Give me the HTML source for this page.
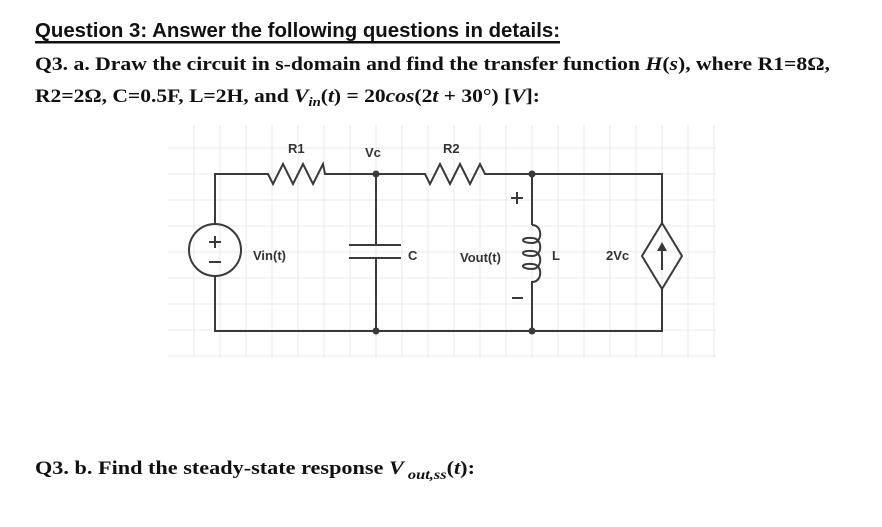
<!DOCTYPE html>
<html><head><style>body{margin:0;background:#fff}svg{display:block}</style></head><body>
<svg width="882" height="527" xmlns="http://www.w3.org/2000/svg">
<rect width="882" height="527" fill="#fff"/>
<text x="35" y="37" font-family="Liberation Sans,sans-serif" font-weight="bold" font-size="20" textLength="525" lengthAdjust="spacingAndGlyphs" fill="#111">Question 3: Answer the following questions in details:</text>
<rect x="35" y="41" width="525" height="2.5" fill="#111"/>
<text x="35" y="70" font-family="Liberation Serif,serif" font-weight="bold" font-size="19" textLength="795" lengthAdjust="spacingAndGlyphs" fill="#111">Q3. a. Draw the circuit in s-domain and find the transfer function <tspan font-style="italic">H</tspan>(<tspan font-style="italic">s</tspan>), where R1=8Ω,</text>
<text x="35" y="102" font-family="Liberation Serif,serif" font-weight="bold" font-size="19" textLength="505" lengthAdjust="spacingAndGlyphs" fill="#111">R2=2Ω, C=0.5F, L=2H, and <tspan font-style="italic">V</tspan><tspan font-style="italic" font-size="13" dy="4">in</tspan><tspan dy="-4">(</tspan><tspan font-style="italic">t</tspan>) = 20<tspan font-style="italic">cos</tspan>(2<tspan font-style="italic">t</tspan> + 30°) [<tspan font-style="italic">V</tspan>]:</text>
<text x="35" y="474" font-family="Liberation Serif,serif" font-weight="bold" font-size="19" textLength="440" lengthAdjust="spacingAndGlyphs" fill="#111">Q3. b. Find the steady-state response <tspan font-style="italic">V</tspan><tspan font-style="italic" font-size="14" dy="5"> out,ss</tspan><tspan dy="-5">(</tspan><tspan font-style="italic">t</tspan>):</text>
<g stroke="#e8e8e8" stroke-width="1">
<path d="M194 125V358M220 125V358M246 125V358M272 125V358M298 125V358M324 125V358M350 125V358M376 125V358M402 125V358M428 125V358M454 125V358M480 125V358M506 125V358M532 125V358M558 125V358M584 125V358M610 125V358M636 125V358M662 125V358M688 125V358M714 125V358"/>
<path d="M168 148H716M168 174H716M168 200H716M168 226H716M168 252H716M168 278H716M168 304H716M168 330H716M168 356H716"/>
</g>
<g stroke="#3a3a3a" stroke-width="2" fill="none">
<path d="M215 224V174H268l5 10 10-20 10 20 10-20 10 20 10-20 2 10H425l5 10 10-20 10 20 10-20 10 20 10-20 5 10H662V223"/>
<path d="M215 276V331H662V289"/>
<circle cx="215" cy="250" r="26"/>
<path d="M376 174V245M376 258V331M349 245H401M349 258H401"/>
<path d="M532 174V225M532 298V331"/>
<path d="M532 225c11 0 11 18 0 18c-12 0-12 -6 0 -5c11 0 11 18 0 18c-12 0-12 -6 0 -5c11 0 11 18 0 18c-12 0-12 -6 0 -5c11 0 11 18 0 18V298"/>
<path d="M662 223L682 256L662 289L642 256Z"/>
<path d="M662 270V248"/>
<path d="M209 242H221M215 236V248M209 262H221M511 198H523M517 192V204M512 298H523"/>
</g>
<path d="M657 251L662 242L667 251Z" fill="#3a3a3a"/>
<g fill="#3a3a3a"><circle cx="376" cy="174" r="3.5"/><circle cx="532" cy="174" r="3.5"/><circle cx="376" cy="331" r="3.5"/><circle cx="532" cy="331" r="3.5"/></g>
<g font-family="Liberation Sans,sans-serif" font-weight="bold" font-size="13" fill="#333">
<text x="288" y="153">R1</text><text x="365" y="157">Vc</text><text x="443" y="153">R2</text>
<text x="253" y="260">Vin(t)</text><text x="408" y="260">C</text><text x="460" y="262">Vout(t)</text>
<text x="552" y="260">L</text><text x="606" y="260">2Vc</text>
</g>
</svg>
</body></html>
